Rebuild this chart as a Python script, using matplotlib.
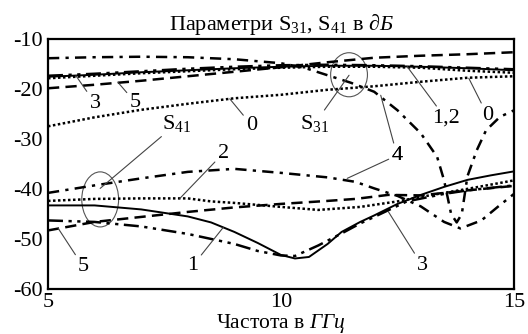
import matplotlib
matplotlib.use("Agg")
import matplotlib.pyplot as plt
from matplotlib.patches import Ellipse

plt.rcParams['font.family'] = ['Liberation Serif', 'DejaVu Serif']
plt.rcParams['mathtext.fontset'] = 'custom'
plt.rcParams['mathtext.rm'] = 'Liberation Serif'
plt.rcParams['mathtext.it'] = 'Liberation Serif:italic'
plt.rcParams['mathtext.bf'] = 'Liberation Serif:bold'
plt.rcParams['axes.unicode_minus'] = False

# S31, dB
freq = [5, 6, 7, 8, 9, 10, 11, 12, 13, 14, 15]
s31_0 = [-27.5, -25.7, -24.2, -23.0, -21.9, -21.2, -20.2, -19.5, -18.6, -17.8, -17.5]
s31_1 = [-17.6, -17.2, -16.7, -16.3, -15.9, -15.6, -15.4, -15.4, -15.6, -15.9, -16.3]
s31_2 = [-17.9, -17.4, -16.9, -16.5, -16.1, -15.8, -15.6, -15.6, -15.8, -16.4, -16.8]
s31_3 = [-17.4, -17.0, -16.5, -16.0, -15.6, -15.3, -15.2, -15.3, -15.5, -15.8, -16.1]
s31_5 = [-19.9, -19.2, -18.4, -17.5, -16.6, -15.7, -14.7, -13.8, -13.4, -13.1, -12.7]
f31_4 = [5, 6, 7, 8, 9, 10, 10.5, 11, 11.5, 12, 12.5, 13, 13.35, 13.5, 13.65,
         13.77, 13.88, 14.0, 14.2, 14.4, 14.7, 15]
s31_4 = [-13.9, -13.7, -13.6, -13.7, -14.1, -14.9, -15.8, -17.3, -18.8, -20.6,
         -24.3, -28.9, -33.6, -38.3, -45.0, -46.7, -45.0, -37.5, -32.3, -28.3,
         -25.6, -24.3]

# S41, dB
f41_1 = [5, 6, 7, 8, 8.5, 9, 9.5, 10, 10.3, 10.6, 11, 11.3, 11.7, 12, 12.5,
         13, 13.5, 14, 14.5, 15]
s41_1 = [-43.3, -43.3, -44.1, -45.5, -46.7, -48.6, -50.8, -53.2, -53.9, -53.6,
         -51.0, -48.6, -46.6, -45.3, -43.0, -41.2, -39.6, -38.2, -37.3, -36.5]
f41_2 = [5, 6, 7, 8, 8.5, 9, 10, 10.8, 11.7, 12.5, 13, 14, 15]
s41_2 = [-42.4, -42.0, -41.9, -41.9, -42.5, -42.8, -43.6, -44.2, -43.6, -42.5,
         -41.6, -40.0, -38.3]
f41_3 = [5, 6, 7, 8, 9, 9.5, 10, 10.3, 10.8, 11.3, 11.7, 12, 12.7, 13.5, 14, 15]
s41_3 = [-46.3, -46.6, -47.5, -49.0, -51.0, -52.4, -53.3, -53.4, -51.3, -48.9,
         -46.9, -45.6, -42.5, -41.0, -40.3, -39.3]
f41_4 = [5, 6, 7, 8, 9, 10, 11, 11.6, 12, 12.5, 13, 13.5, 13.85, 14.3, 14.65, 15]
s41_4 = [-40.8, -39.3, -37.9, -36.6, -36.0, -36.8, -37.7, -38.6, -39.9, -41.4,
         -43.5, -46.6, -47.9, -46.3, -43.6, -41.0]
f41_5 = [5, 6, 7, 8, 9, 10, 11, 11.6, 12.3, 13, 14, 15]
s41_5 = [-48.3, -46.6, -45.6, -44.6, -43.7, -43.0, -42.4, -42.0, -41.2, -41.3,
         -40.3, -39.4]

dotted = (0, (1, 1))
solid = '-'
dash_dot_dot = (0, (6, 2.2, 1.3, 2.2, 1.3, 2.2))
dash_dot = (0, (4.5, 2.5, 1.3, 2.5))
dashed = (0, (4.5, 2.5))

fig = plt.figure(figsize=(5.28, 3.34), dpi=100)
ax = fig.add_axes([0.0909, 0.1347, 0.8826, 0.7494])

lw = 1.8
ax.plot(freq, s31_0, color='black', lw=lw, ls=dotted)
ax.plot(freq, s31_1, color='black', lw=1.4, ls=solid)
ax.plot(freq, s31_2, color='black', lw=lw, ls=dotted)
ax.plot(freq, s31_3, color='black', lw=lw, ls=dash_dot_dot)
ax.plot(f31_4, s31_4, color='black', lw=lw, ls=dash_dot)
ax.plot(freq, s31_5, color='black', lw=lw, ls=dashed)

ax.plot(f41_1, s41_1, color='black', lw=1.4, ls=solid)
ax.plot(f41_2, s41_2, color='black', lw=lw, ls=dotted)
ax.plot(f41_3, s41_3, color='black', lw=lw, ls=dash_dot_dot)
ax.plot(f41_4, s41_4, color='black', lw=lw, ls=dash_dot)
ax.plot(f41_5, s41_5, color='black', lw=lw, ls=dashed)

ax.add_patch(Ellipse((11.46, -17.2), 0.79, 8.8, fill=False, ec='#555555', lw=0.8))
ax.add_patch(Ellipse((6.12, -42.1), 0.79, 11.0, fill=False, ec='#555555', lw=0.8))

lead = dict(arrowstyle='-', color='#444444', lw=0.8, shrinkA=0, shrinkB=0)
fs = 16
notes = [
    ("3", (5.6, -17.4), (6.01, -22.9)),
    ("5", (6.5, -18.7), (6.87, -22.7)),
    ("0", (8.9, -22.0), (9.37, -27.3)),
    ("S$_{41}$", (6.12, -39.9), (7.77, -26.9)),
    ("S$_{31}$", (11.46, -17.3), (10.73, -26.9)),
    ("2", (7.83, -41.9), (8.76, -32.9)),
    ("4", (12.14, -21.3), (12.49, -33.3)),
    ("4", (11.42, -37.9), (12.49, -33.3)),
    ("1,2", (12.71, -15.6), (13.53, -25.9)),
    ("0", (14.03, -17.9), (14.43, -25.3)),
    ("5", (5.22, -47.9), (5.76, -55.6)),
    ("1", (8.76, -47.7), (8.11, -55.3)),
    ("3", (12.3, -44.5), (13.03, -55.3)),
]
for txt, xy, xytext in notes:
    ax.annotate(txt, xy=xy, xytext=xytext, ha='center', va='center',
                fontsize=fs, arrowprops=lead)

ax.set_xlim(5, 15)
ax.set_ylim(-60, -10)
ax.set_xticks([5, 10, 15])
ax.set_yticks([-60, -50, -40, -30, -20, -10])
ax.tick_params(length=0, labelsize=fs)
ax.tick_params(axis='y', pad=4)
ax.tick_params(axis='x', pad=3)
for sp in ax.spines.values():
    sp.set_linewidth(1.6)

ax.set_title("Параметри S$_{31}$, S$_{41}$ в $\\partial Б$", fontsize=fs, pad=6)
ax.set_xlabel("Частота в $ГГц$", fontsize=15.5, labelpad=0)

fig.savefig("out.png", dpi=100)
